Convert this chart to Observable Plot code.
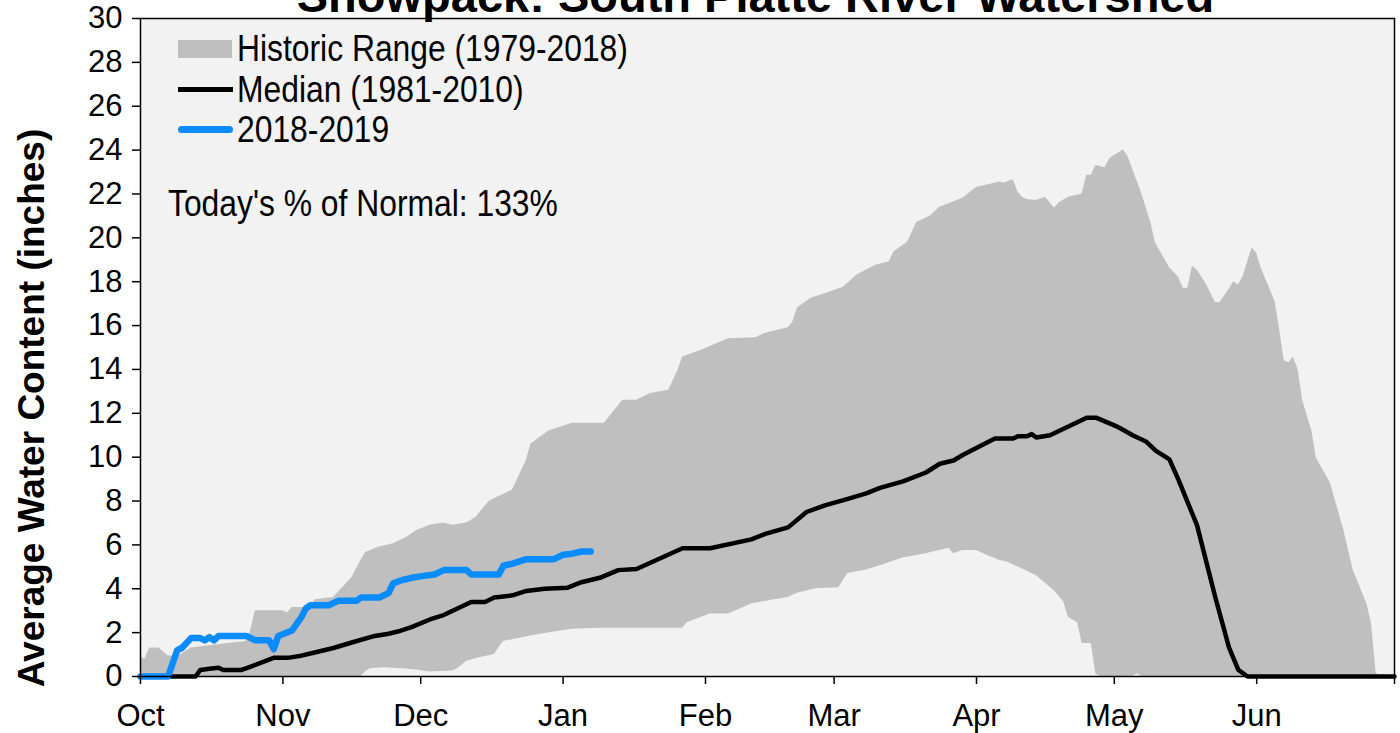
<!DOCTYPE html>
<html><head><meta charset="utf-8">
<script src="https://cdn.jsdelivr.net/npm/d3@7"></script>
<script src="https://cdn.jsdelivr.net/npm/@observablehq/plot@0.6"></script>
<style>
body{margin:0;background:#fff;}
#wrap{position:relative;width:1400px;height:733px;overflow:hidden;font-family:"Liberation Sans",Arial,sans-serif;}
.lg{position:absolute;font-size:37px;line-height:37px;white-space:nowrap;transform:scaleX(0.86);transform-origin:0 50%;color:#000;}
.sw{position:absolute;}
.ylab{position:absolute;font-size:37px;line-height:37px;font-weight:bold;white-space:nowrap;color:#000;transform:translate(-50%,-50%) rotate(-90deg);}
</style></head><body><div id="wrap"></div>
<script>
// ---- Data ----
const title = "Snowpack: South Platte River Watershed";
const yLabel = "Average Water Content (inches)";
const xDomain = ["2018-10-01", "2019-07-01"];
const monthTicks = ["2018-10-01","2018-11-01","2018-12-01","2019-01-01","2019-02-01","2019-03-01","2019-04-01","2019-05-01","2019-06-01","2019-07-01"];
const monthLabels = ["Oct","Nov","Dec","Jan","Feb","Mar","Apr","May","Jun",""];
const yTicks = [0,2,4,6,8,10,12,14,16,18,20,22,24,26,28,30];
const legendLabels = ["Historic Range (1979-2018)", "Median (1981-2010)", "2018-2019"];
const noteText = "Today's % of Normal: 133%";

// Historic maximum (top of range)
const maxDates = ["2018-10-01","2018-10-02","2018-10-03","2018-10-05","2018-10-07","2018-10-09","2018-10-12","2018-10-20","2018-10-24","2018-10-25","2018-10-26","2018-11-01","2018-11-02","2018-11-03","2018-11-07","2018-11-08","2018-11-12","2018-11-14","2018-11-16","2018-11-18","2018-11-19","2018-11-22","2018-11-25","2018-11-28","2018-11-30","2018-12-03","2018-12-06","2018-12-08","2018-12-11","2018-12-13","2018-12-16","2018-12-21","2018-12-24","2018-12-25","2018-12-29","2019-01-03","2019-01-10","2019-01-14","2019-01-17","2019-01-20","2019-01-24","2019-01-26","2019-01-27","2019-02-01","2019-02-06","2019-02-12","2019-02-14","2019-02-19","2019-02-20","2019-02-21","2019-02-24","2019-02-27","2019-03-03","2019-03-06","2019-03-10","2019-03-13","2019-03-14","2019-03-17","2019-03-19","2019-03-22","2019-03-24","2019-03-29","2019-04-01","2019-04-06","2019-04-07","2019-04-09","2019-04-10","2019-04-11","2019-04-12","2019-04-14","2019-04-16","2019-04-18","2019-04-19","2019-04-21","2019-04-24","2019-04-25","2019-04-26","2019-04-27","2019-04-29","2019-04-30","2019-05-01","2019-05-03","2019-05-04","2019-05-07","2019-05-09","2019-05-10","2019-05-13","2019-05-15","2019-05-16","2019-05-17","2019-05-18","2019-05-19","2019-05-21","2019-05-23","2019-05-24","2019-05-26","2019-05-27","2019-05-28","2019-05-29","2019-05-31","2019-06-01","2019-06-02","2019-06-05","2019-06-06","2019-06-07","2019-06-08","2019-06-09","2019-06-10","2019-06-11","2019-06-13","2019-06-14","2019-06-17","2019-06-20","2019-06-22","2019-06-25","2019-06-26","2019-06-27","2019-06-28","2019-07-01"];
const maxVals = [0.87,0.8,1.3,1.3,0.95,0.9,1.3,1.5,1.6,2.1,3.0,3.0,2.9,3.15,3.15,3.5,3.6,4.05,4.5,5.3,5.65,5.9,6.05,6.35,6.65,6.9,7.0,6.9,7.0,7.25,8.0,8.5,9.85,10.6,11.2,11.55,11.55,12.6,12.6,12.9,13.05,13.95,14.55,14.95,15.4,15.45,15.65,15.9,16.15,16.8,17.25,17.45,17.75,18.3,18.75,18.9,19.35,19.8,20.7,21.0,21.4,21.8,22.3,22.55,22.5,22.65,22.1,21.85,21.75,21.7,21.85,21.35,21.6,21.85,22.0,22.85,22.85,23.3,23.2,23.6,23.75,24.0,23.7,22.0,20.65,19.75,18.65,18.2,17.7,17.7,18.7,18.55,17.9,17.05,17.05,17.65,18.0,17.85,18.2,19.55,19.3,18.6,17.1,15.8,14.4,14.3,14.55,14.0,12.6,11.2,9.95,8.85,6.65,4.85,3.3,2.4,0.15,0,0];

// Historic minimum (bottom of range)
const minDates = ["2018-10-01","2018-11-18","2018-11-19","2018-11-20","2018-11-23","2018-11-27","2018-11-30","2018-12-03","2018-12-08","2018-12-09","2018-12-11","2018-12-14","2018-12-17","2018-12-19","2018-12-25","2018-12-29","2019-01-03","2019-01-09","2019-01-27","2019-01-28","2019-02-02","2019-02-06","2019-02-11","2019-02-16","2019-02-19","2019-02-21","2019-02-25","2019-03-02","2019-03-04","2019-03-08","2019-03-11","2019-03-16","2019-03-21","2019-03-26","2019-03-27","2019-03-29","2019-04-01","2019-04-03","2019-04-06","2019-04-08","2019-04-11","2019-04-14","2019-04-16","2019-04-18","2019-04-20","2019-04-21","2019-04-23","2019-04-24","2019-04-26","2019-04-27","2019-04-28","2019-05-05","2019-05-06","2019-05-07","2019-07-01"];
const minVals = [0,0,0.2,0.35,0.4,0.35,0.3,0.2,0.25,0.35,0.7,0.87,1.0,1.6,1.85,2.0,2.15,2.2,2.2,2.45,2.85,2.85,3.3,3.5,3.6,3.8,4.0,4.05,4.7,4.85,5.05,5.4,5.6,5.85,5.6,5.75,5.75,5.55,5.3,5.2,4.9,4.6,4.25,3.9,3.4,2.7,2.45,1.5,1.5,0.1,0,0,0.12,0,0];

// Median (1981-2010)
const medianDates = ["2018-10-01","2018-10-13","2018-10-14","2018-10-16","2018-10-18","2018-10-19","2018-10-23","2018-10-25","2018-10-30","2018-11-02","2018-11-05","2018-11-07","2018-11-12","2018-11-16","2018-11-21","2018-11-24","2018-11-26","2018-11-29","2018-12-03","2018-12-06","2018-12-09","2018-12-12","2018-12-15","2018-12-17","2018-12-21","2018-12-24","2018-12-28","2019-01-02","2019-01-05","2019-01-09","2019-01-13","2019-01-17","2019-01-27","2019-02-02","2019-02-11","2019-02-14","2019-02-19","2019-02-23","2019-02-27","2019-03-04","2019-03-08","2019-03-11","2019-03-16","2019-03-21","2019-03-24","2019-03-27","2019-03-29","2019-04-05","2019-04-09","2019-04-10","2019-04-12","2019-04-13","2019-04-14","2019-04-17","2019-04-25","2019-04-27","2019-05-01","2019-05-02","2019-05-05","2019-05-08","2019-05-10","2019-05-13","2019-05-15","2019-05-19","2019-05-23","2019-05-26","2019-05-28","2019-05-30","2019-07-01"];
const medianVals = [0,0,0.3,0.35,0.4,0.3,0.3,0.45,0.85,0.85,0.95,1.05,1.3,1.55,1.85,1.95,2.05,2.25,2.6,2.8,3.1,3.4,3.4,3.6,3.7,3.9,4.0,4.05,4.3,4.5,4.85,4.9,5.85,5.85,6.25,6.5,6.8,7.5,7.8,8.1,8.35,8.6,8.9,9.3,9.7,9.85,10.1,10.85,10.85,10.95,10.95,11.05,10.9,11.0,11.8,11.8,11.45,11.35,11.0,10.7,10.3,9.9,8.95,6.9,3.6,1.3,0.3,0,0];

// Current water year 2018-2019
const currentDates = ["2018-10-01","2018-10-07","2018-10-09","2018-10-10","2018-10-12","2018-10-14","2018-10-15","2018-10-16","2018-10-17","2018-10-18","2018-10-24","2018-10-26","2018-10-29","2018-10-30","2018-10-31","2018-11-03","2018-11-05","2018-11-06","2018-11-07","2018-11-11","2018-11-13","2018-11-17","2018-11-18","2018-11-22","2018-11-24","2018-11-25","2018-11-27","2018-11-29","2018-12-02","2018-12-04","2018-12-06","2018-12-11","2018-12-12","2018-12-18","2018-12-19","2018-12-21","2018-12-24","2018-12-30","2019-01-01","2019-01-03","2019-01-05","2019-01-07"];
const currentVals = [0,0,1.2,1.3,1.75,1.75,1.65,1.8,1.65,1.85,1.85,1.65,1.65,1.25,1.85,2.1,2.7,3.1,3.25,3.25,3.45,3.45,3.6,3.6,3.8,4.25,4.4,4.5,4.6,4.65,4.85,4.85,4.65,4.65,5.05,5.15,5.35,5.35,5.55,5.6,5.7,5.7];

// ---- Build ----
const parse = s => new Date(s + "T00:00:00Z");
const rows = (dates, vals) => dates.map((d, i) => ({date: parse(d), value: vals[i]}));
const maxRows = rows(maxDates, maxVals);
const minRows = rows(minDates, minVals);
const medianRows = rows(medianDates, medianVals);
const currentRows = rows(currentDates, currentVals);
const tickDates = monthTicks.map(parse);

const chart = Plot.plot({
  width: 1400, height: 733,
  marginLeft: 140, marginRight: 6, marginTop: 18, marginBottom: 57,
  style: {fontFamily: '"Liberation Sans", Arial, sans-serif', background: "white", color: "black"},
  x: {type: "utc", domain: xDomain.map(parse)},
  y: {domain: [0, 30]},
  marks: [
    Plot.frame({fill: "#f2f2f2"}),
    Plot.areaY(maxRows, {x: "date", y: "value", fill: "#bfbfbf"}),
    Plot.areaY(minRows, {x: "date", y: "value", fill: "#f2f2f2"}),
    Plot.line(medianRows, {x: "date", y: "value", stroke: "#000", strokeWidth: 4.5, strokeLinejoin: "round"}),
    Plot.line(currentRows, {x: "date", y: "value", stroke: "#0a8cff", strokeWidth: 6.5, strokeLinecap: "round", strokeLinejoin: "round"}),
    Plot.frame({stroke: "#000", strokeWidth: 1.5}),
    Plot.axisX({ticks: tickDates, tickFormat: d => monthLabels[tickDates.findIndex(t => +t === +d)] ?? "",
      tickSize: 8, tickPadding: 19, fontSize: 31, label: null, strokeWidth: 1.5}),
    Plot.axisY({ticks: yTicks, tickSize: 8, tickPadding: 10, fontSize: 31, label: null, strokeWidth: 1.5}),
    Plot.text([title], {text: d => d, frameAnchor: "top", dx: -12, dy: -7, lineAnchor: "bottom", fontSize: 47, fontWeight: "bold", fill: "#000"})
  ]
});

const wrap = document.getElementById("wrap");
wrap.appendChild(chart);

// Legend and axis-title overlay
function add(tag, cls, css, text) {
  const el = document.createElement(tag);
  el.className = cls;
  Object.assign(el.style, css);
  if (text) el.textContent = text;
  wrap.appendChild(el);
}
add("div", "ylab", {left: "31px", top: "408px"}, yLabel);
add("div", "sw", {left: "178px", top: "40px", width: "54px", height: "18px", background: "#bfbfbf"});
add("div", "sw", {left: "178px", top: "86.5px", width: "55px", height: "5px", background: "#000"});
add("div", "sw", {left: "178px", top: "125.5px", width: "55px", height: "7px", background: "#0a8cff", borderRadius: "4px"});
add("div", "lg", {left: "237px", top: "30px"}, legendLabels[0]);
add("div", "lg", {left: "237px", top: "71px"}, legendLabels[1]);
add("div", "lg", {left: "237px", top: "111px"}, legendLabels[2]);
add("div", "lg", {left: "168px", top: "185px"}, noteText);
</script></body></html>
